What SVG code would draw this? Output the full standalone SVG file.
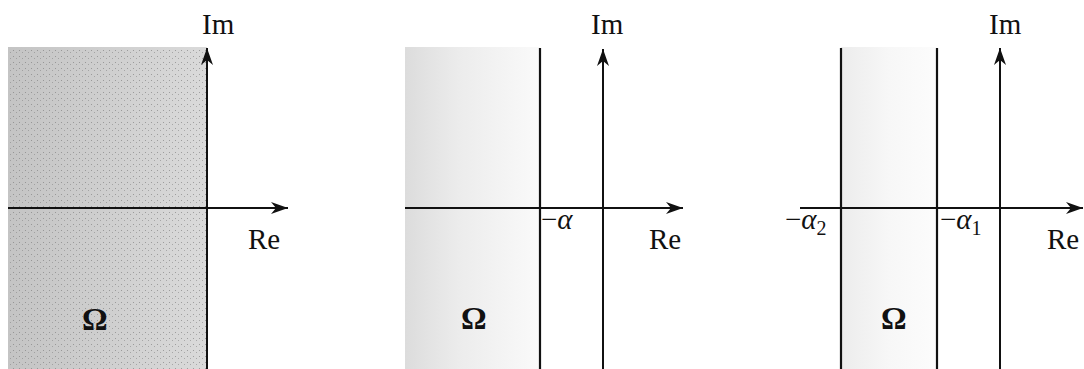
<svg xmlns="http://www.w3.org/2000/svg" width="1084" height="369" viewBox="0 0 1084 369">
<style>
.ax{stroke:#111;stroke-width:2;fill:none}
.ln{stroke:#111;stroke-width:2.2;fill:none}
.lb{font-family:"Liberation Serif",serif;font-size:29px;fill:#111}
.it{font-style:italic}
.om{font-family:"Liberation Serif",serif;font-size:32px;font-weight:bold;fill:#111}
</style>
<defs>
<marker id="ah" markerWidth="18" markerHeight="12" refX="17" refY="6" orient="auto" markerUnits="userSpaceOnUse">
<path d="M0,0 L17,6 L0,12 L5,6 Z" fill="#111"/>
</marker>
<linearGradient id="g1" x1="0" y1="0" x2="1" y2="0">
<stop offset="0" stop-color="#c4c4c4"/>
<stop offset="1" stop-color="#dadada"/>
</linearGradient>
<linearGradient id="g2" x1="0" y1="0" x2="1" y2="0">
<stop offset="0" stop-color="#dcdcdc"/>
<stop offset="0.4" stop-color="#ececec"/>
<stop offset="1" stop-color="#fafafa"/>
</linearGradient>
<linearGradient id="g3" x1="0" y1="0" x2="1" y2="0">
<stop offset="0" stop-color="#ececec"/>
<stop offset="0.5" stop-color="#f7f7f7"/>
<stop offset="1" stop-color="#fcfcfc"/>
</linearGradient>
<pattern id="dots" width="6" height="6" patternUnits="userSpaceOnUse">
<rect x="1" y="2" width="1" height="1" fill="#777"/>
<rect x="4" y="4" width="1" height="1" fill="#888"/>
</pattern>
</defs>
<rect width="1084" height="369" fill="#fff"/>
<g id="region1">
<rect x="8" y="47" width="199" height="322" fill="url(#g1)"/>
<rect x="8" y="47" width="199" height="322" fill="url(#dots)" opacity="0.6"/>
<text class="om" x="82" y="330">Ω</text>
</g>
<g id="region2">
<rect x="405" y="47" width="135" height="322" fill="url(#g2)"/>
<text class="om" x="461" y="329">Ω</text>
</g>
<g id="region3">
<rect x="841" y="47" width="96" height="322" fill="url(#g3)"/>
<text class="om" x="881" y="329">Ω</text>
</g>
<g id="connectors">
<line class="ax" x1="8" y1="208" x2="288" y2="208" marker-end="url(#ah)"/>
<line class="ax" x1="207" y1="369" x2="207" y2="48" marker-end="url(#ah)"/>
<line class="ax" x1="405" y1="208" x2="683" y2="208" marker-end="url(#ah)"/>
<line class="ax" x1="603" y1="369" x2="603" y2="49" marker-end="url(#ah)"/>
<line class="ln" x1="540" y1="48" x2="540" y2="369"/>
<line class="ax" x1="800" y1="208" x2="1083" y2="208" marker-end="url(#ah)"/>
<line class="ax" x1="1000" y1="369" x2="1000" y2="48" marker-end="url(#ah)"/>
<line class="ln" x1="841" y1="48" x2="841" y2="369"/>
<line class="ln" x1="937" y1="48" x2="937" y2="369"/>
</g>
<g id="labels1">
<text class="lb" x="202" y="34">Im</text>
<text class="lb" x="248" y="249">Re</text>
</g>
<g id="labels2">
<text class="lb" x="591" y="34">Im</text>
<text class="lb" x="649" y="249">Re</text>
<text class="lb" x="541" y="229">−<tspan class="it">α</tspan></text>
</g>
<g id="labels3">
<text class="lb" x="989" y="34">Im</text>
<text class="lb" x="1047" y="249">Re</text>
<text class="lb" x="785" y="229">−<tspan class="it">α</tspan><tspan font-size="20" dy="6">2</tspan></text>
<text class="lb" x="940" y="229">−<tspan class="it">α</tspan><tspan font-size="20" dy="6">1</tspan></text>
</g>
</svg>
